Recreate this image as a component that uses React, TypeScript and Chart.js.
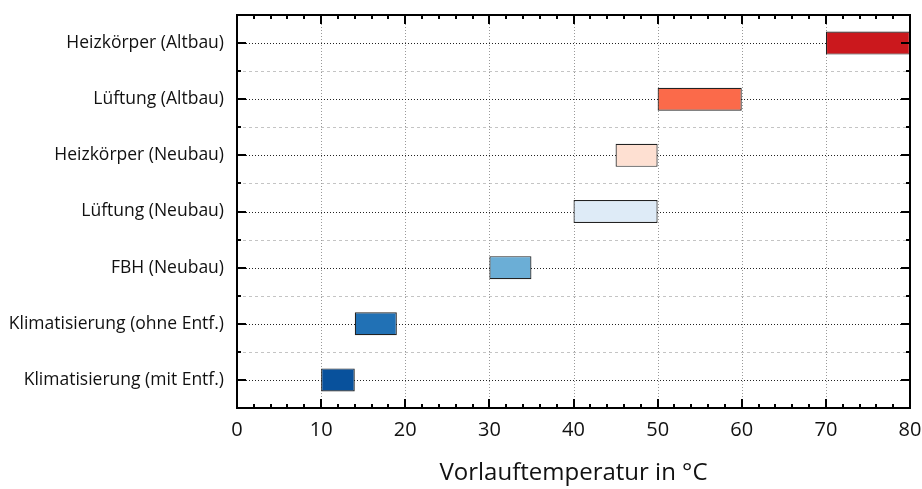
import React, { useEffect, useRef } from "react";
import { Chart, registerables } from "chart.js";

Chart.register(...registerables);

const categories = [
  "Heizkörper (Altbau)",
  "Lüftung (Altbau)",
  "Heizkörper (Neubau)",
  "Lüftung (Neubau)",
  "FBH (Neubau)",
  "Klimatisierung (ohne Entf.)",
  "Klimatisierung (mit Entf.)",
];
const rangeStart = [70, 50, 45, 40, 30, 14, 10];
const rangeEnd = [80, 60, 50, 50, 35, 19, 14];
const barColors = ["#cb181d", "#fb6a4a", "#fee0d2", "#deebf7", "#6baed6", "#2171b5", "#08519c"];
const xMin = 0;
const xMax = 80;
const xMajorStep = 10;
const xMinorStep = 2;
const axisTitle = "Vorlauftemperatur in °C";

const FONT = "'Open Sans', sans-serif";

const framePlugin = {
  id: "framePlugin",
  beforeDatasetsDraw(chart: any) {
    const { ctx, chartArea: a } = chart;
    const xs = chart.scales.x;
    const ys = chart.scales.y;
    ctx.save();
    ctx.lineWidth = 1;
    ctx.strokeStyle = "#c4c4c4";
    ctx.setLineDash([3, 3]);
    for (let i = 0; i < categories.length - 1; i++) {
      const y = Math.round((ys.getPixelForValue(i) + ys.getPixelForValue(i + 1)) / 2) + 0.5;
      ctx.beginPath();
      ctx.moveTo(a.left, y);
      ctx.lineTo(a.right, y);
      ctx.stroke();
    }
    ctx.strokeStyle = "#999";
    ctx.setLineDash([1, 2]);
    for (let v = xMin + xMajorStep; v < xMax; v += xMajorStep) {
      const x = Math.round(xs.getPixelForValue(v)) + 0.5;
      ctx.beginPath();
      ctx.moveTo(x, a.top);
      ctx.lineTo(x, a.bottom);
      ctx.stroke();
    }
    ctx.strokeStyle = "#222";
    for (let i = 0; i < categories.length; i++) {
      const y = Math.round(ys.getPixelForValue(i)) + 0.5;
      ctx.beginPath();
      ctx.moveTo(a.left, y);
      ctx.lineTo(a.right, y);
      ctx.stroke();
    }
    ctx.restore();
  },
  afterDatasetsDraw(chart: any) {
    const { ctx, chartArea: a } = chart;
    const xs = chart.scales.x;
    const ys = chart.scales.y;
    ctx.save();
    ctx.setLineDash([]);
    ctx.strokeStyle = "#000";
    ctx.lineWidth = 2;
    for (let v = xMin; v <= xMax + 1e-9; v += xMinorStep) {
      const major = Math.abs(v % xMajorStep) < 1e-9;
      const len = major ? 9 : 4;
      const x = Math.round(xs.getPixelForValue(v));
      ctx.beginPath();
      ctx.moveTo(x, a.bottom);
      ctx.lineTo(x, a.bottom - len);
      ctx.moveTo(x, a.top);
      ctx.lineTo(x, a.top + len);
      ctx.stroke();
    }
    for (let i = 0; i < categories.length; i++) {
      const y = Math.round(ys.getPixelForValue(i));
      ctx.beginPath();
      ctx.moveTo(a.left, y);
      ctx.lineTo(a.left + 9, y);
      ctx.moveTo(a.right, y);
      ctx.lineTo(a.right - 9, y);
      ctx.stroke();
    }
    for (let i = 0; i < categories.length - 1; i++) {
      const y = Math.round((ys.getPixelForValue(i) + ys.getPixelForValue(i + 1)) / 2);
      ctx.beginPath();
      ctx.moveTo(a.left, y);
      ctx.lineTo(a.left + 4, y);
      ctx.moveTo(a.right, y);
      ctx.lineTo(a.right - 4, y);
      ctx.stroke();
    }
    ctx.strokeRect(a.left, a.top, a.right - a.left, a.bottom - a.top);
    ctx.restore();
  },
};

export default function App() {
  const ref = useRef<HTMLCanvasElement>(null);
  useEffect(() => {
    if (!ref.current) return;
    const chart = new Chart(ref.current, {
      type: "bar",
      data: {
        labels: categories,
        datasets: [
          {
            data: categories.map((_, i) => [rangeStart[i], rangeEnd[i]]) as any,
            backgroundColor: barColors,
            borderColor: "#222",
            borderWidth: 1.2,
            borderSkipped: false,
            categoryPercentage: 1,
            barPercentage: 0.41,
          },
        ],
      },
      options: {
        indexAxis: "y",
        animation: false,
        responsive: false,
        maintainAspectRatio: false,
        layout: { padding: { left: 0, top: 15, right: 12, bottom: 0 } },
        plugins: { legend: { display: false }, tooltip: { enabled: false } },
        scales: {
          x: {
            type: "linear",
            min: xMin,
            max: xMax,
            ticks: {
              stepSize: xMajorStep,
              color: "#111",
              font: { family: FONT, size: 20 },
              padding: 10,
            },
            grid: { display: false, drawTicks: false },
            border: { display: false },
            title: {
              display: true,
              text: axisTitle,
              color: "#111",
              font: { family: FONT, size: 24 },
              padding: { top: 0, bottom: 1 },
            },
            afterFit(scale: any) {
              scale.height = 81;
              scale.paddingLeft = 0;
              scale.paddingRight = 0;
            },
          },
          y: {
            type: "category",
            ticks: {
              color: "#111",
              font: { family: FONT, size: 17.5 },
              padding: 13,
            },
            grid: { display: false, drawTicks: false },
            border: { display: false },
            afterFit(scale: any) {
              scale.width = 237;
              scale.paddingTop = 0;
              scale.paddingBottom = 0;
            },
          },
        },
      },
      plugins: [framePlugin],
    });
    return () => chart.destroy();
  }, []);
  return (
    <div style={{ position: "fixed", left: 0, top: 0, width: 922, height: 489, background: "#fff" }}>
      <canvas ref={ref} width={922} height={489} />
    </div>
  );
}
